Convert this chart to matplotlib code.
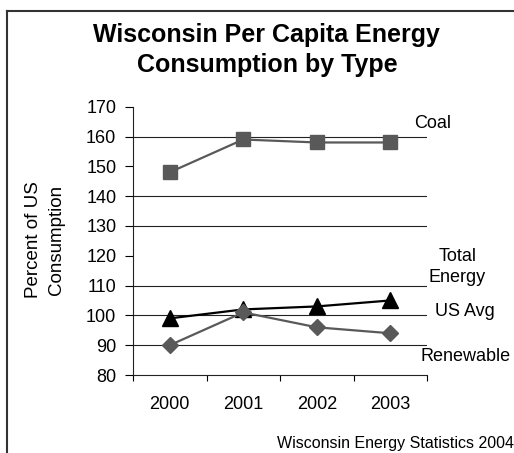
import numpy as np
from matplotlib import pyplot as plt
from matplotlib.lines import Line2D

plt.rcParams['font.family'] = ['Liberation Sans', 'DejaVu Sans']

years = ['2000', '2001', '2002', '2003']
coal = [148, 159, 158, 158]
total_energy = [99, 102, 103, 105]
renewable = [90, 101, 96, 94]
grid_values = [90, 100, 110, 130, 140, 160]
y_ticks = [80, 90, 100, 110, 120, 130, 140, 150, 160, 170]

W, H = 514, 453
fig = plt.figure(figsize=(W / 100, H / 100), dpi=100)
ax = fig.add_axes([133 / W, 1 - 375 / H, (427 - 133) / W, (375 - 106.7) / H])

x = np.arange(len(years))
for g in grid_values:
    ax.axhline(g, color='#222222', linewidth=0.8, zorder=1)

ax.plot(x, coal, color='#595959', linewidth=1.6, marker='s', markersize=10, zorder=3)
ax.plot(x, total_energy, color='black', linewidth=1.6, marker='^', markersize=11, zorder=3)
ax.plot(x, renewable, color='#595959', linewidth=1.6, marker='D', markersize=8.5, zorder=3)

ax.set_xlim(-0.5, len(years) - 0.5)
ax.set_ylim(80, 170)
ax.set_yticks(y_ticks)
ax.set_xticks(x)
ax.set_xticklabels(years)
ax.set_xticks(np.arange(-0.5, len(years)), minor=True)
ax.tick_params(axis='x', which='major', length=0, pad=15, labelsize=13)
ax.tick_params(axis='x', which='minor', length=4, width=0.8, direction='out')
ax.tick_params(axis='y', length=6, width=0.8, direction='out', pad=6, labelsize=13)

for side in ['top', 'right']:
    ax.spines[side].set_visible(False)
for side in ['left', 'bottom']:
    ax.spines[side].set_linewidth(0.8)
    ax.spines[side].set_color('#222222')

ax.text(3.57, 164.2, 'Coal', ha='center', va='center', fontsize=13, clip_on=False)
ax.text(3.91, 116.1, 'Total\nEnergy', ha='center', va='center', fontsize=13,
        linespacing=1.3, clip_on=False)
ax.text(4.02, 101.2, 'US Avg', ha='center', va='center', fontsize=13, clip_on=False)
ax.text(4.03, 86.1, 'Renewable', ha='center', va='center', fontsize=13, clip_on=False)

fig.text(45 / W, 1 - 240 / H, 'Percent of US\nConsumption', rotation=90,
         ha='center', va='center', multialignment='center', fontsize=13.5, linespacing=1.5)

fig.text(266.5 / W, 1 - 42 / H, 'Wisconsin Per Capita Energy', ha='center', va='baseline',
         fontsize=18, fontweight='bold')
fig.text(267 / W, 1 - 72 / H, 'Consumption by Type', ha='center', va='baseline',
         fontsize=18, fontweight='bold')

fig.text(514 / W, 1 - 448 / H, 'Wisconsin Energy Statistics 2004', ha='right', va='baseline',
         fontsize=11.5)

# chart border
fig.add_artist(Line2D([7 / W, 7 / W], [0, 1 - 11 / H], color='#333333', linewidth=1.5))
fig.add_artist(Line2D([7 / W, 1], [1 - 11 / H, 1 - 11 / H], color='#333333', linewidth=1.5))

fig.savefig('out.png', dpi=100)
